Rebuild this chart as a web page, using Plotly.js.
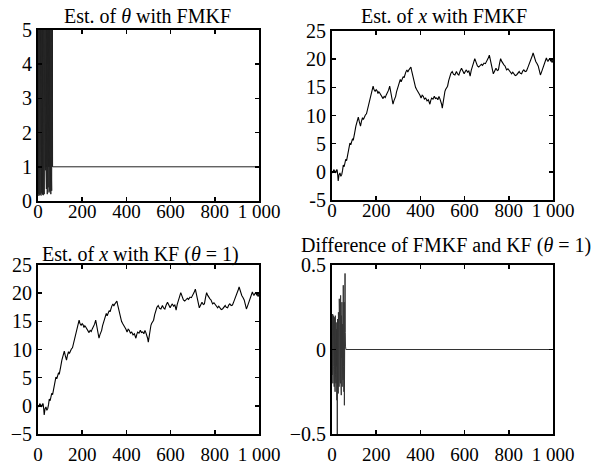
<!DOCTYPE html>
<html>
<head>
<meta charset="utf-8">
<script src="https://cdn.plot.ly/plotly-3.0.1.min.js"></script>
<style>html,body{margin:0;padding:0;background:#fff;}#chart{width:597px;height:464px;}</style>
</head>
<body>
<div id="chart"></div>
<script>
// ---- data ----
var xTickVals = [0, 200, 400, 600, 800, 1000];
var xTickText = ["0", "200", "400", "600", "800", "1 000"];

// Est. of theta with FMKF: oscillations over the first steps, then constant 1
var thetaVals = [1, 6.2, 0.2, 7.5, 0.15, 5.8, 0.3, 8.1, 0.18, 6.6, 0.25, 7.2, 0.2, 5.9, 0.16, 8.4, 0.3, 6.1, 0.22, 7.7,
  0.19, 6.4, 0.28, 5.6, 0.17, 7.9, 0.24, 6.8, 0.2, 5.7, 0.3, 7.1, 1.0, 6.3, 0.9, 8.0, 1.0, 5.9, 0.35, 6.7,
  1.0, 7.4, 0.2, 6.0, 1.0, 5.5, 0.4, 7.6, 1.0, 6.5, 0.25, 5.8, 1.0, 7.0, 0.3, 6.2, 1.0, 5.6, 0.2, 6.9,
  1.0, 5.7, 0.3, 6.1, 1.0, 5.5, 1.0];
var thetaTail = {step: 1000, value: 1};

// Est. of x (FMKF); the KF estimate is visually identical
var xSteps = [0,4,8,12,17,20,23,26,28,32,36,40,44,48,51,55,58,62,66,70,74,78,81,85,89,93,96,99,103,108,112,116,119,123,126,129,133,138,142,146,151,156,160,165,169,174,179,183,186,190,195,200,204,208,212,216,221,226,231,236,241,246,251,256,261,265,268,272,276,280,284,288,292,296,299,304,309,313,318,322,326,329,334,339,343,348,352,357,360,363,368,373,378,383,388,394,398,403,408,413,418,424,430,436,440,443,447,451,457,463,468,474,479,484,488,493,496,499,503,508,511,514,518,523,528,533,538,544,550,556,560,563,568,574,580,586,592,598,603,608,613,619,622,625,630,634,640,646,650,653,658,664,670,676,681,688,694,700,706,712,717,722,726,730,736,742,748,753,758,763,768,772,778,783,787,790,796,802,808,813,818,823,829,835,841,847,852,858,863,868,874,880,886,892,898,903,907,910,916,922,928,933,938,943,948,952,957,962,966,970,974,977,981,985,989,992,996,1000];
var fmkfX = [0.1,-0.2,0.4,0.0,-0.2,0.3,0.4,-0.6,-1.6,-0.5,-0.2,-0.8,-0.5,0.3,1.2,0.9,1.8,2.2,2.0,2.8,3.0,4.2,5.1,4.8,5.4,5.9,5.6,6.6,7.0,8.1,8.6,9.0,9.7,9.0,8.6,8.1,8.9,9.6,9.3,9.7,10.1,10.3,10.9,11.8,12.2,13.1,14.0,14.6,15.2,14.6,14.3,14.6,14.4,13.9,14.2,14.0,13.6,13.3,13.0,13.4,13.2,13.7,14.0,14.5,15.2,14.3,13.7,12.8,12.0,12.6,12.9,13.4,14.2,14.8,15.2,15.8,16.4,16.0,16.4,16.9,16.7,17.2,17.7,18.1,17.7,18.1,18.3,18.6,18.0,17.4,16.4,15.5,15.0,14.6,14.3,14.0,13.6,13.1,13.6,13.4,12.9,13.1,12.6,12.8,12.2,12.0,12.7,13.1,12.9,13.4,13.0,13.1,12.8,13.4,13.0,12.5,12.0,11.3,12.5,14.0,14.3,14.6,14.9,15.2,16.2,17.0,17.5,17.8,17.3,17.2,17.6,17.8,17.4,17.2,17.9,18.4,17.9,17.4,17.8,18.1,17.7,17.9,17.5,17.0,18.0,18.7,19.3,20.1,19.6,19.1,18.8,18.6,18.8,19.1,18.9,19.3,19.2,19.6,20.1,20.7,19.8,19.1,18.2,17.4,17.9,18.4,18.0,18.1,19.2,20.1,19.6,19.3,19.0,18.8,18.4,18.1,18.3,17.9,17.6,17.4,17.7,17.4,17.1,17.2,17.6,17.8,17.5,17.4,17.9,18.1,17.8,17.9,18.5,19.1,19.5,20.1,20.7,21.1,20.3,19.6,19.2,18.8,18.0,17.2,17.7,18.1,18.8,19.3,19.8,20.2,19.8,19.6,19.9,20.1,19.7,19.8,19.4,19.9];
var kfX = fmkfX.slice();

// Difference of FMKF and KF
var diffVals = [0, 0.18, -0.15, 0.21, -0.2, 0.12, -0.18, 0.2, -0.1, 0.15, -0.22, 0.19, -0.12, 0.08, -0.25, 0.2, -0.15, 0.1, -0.2, 0.16,
  -0.1, 0.12, -0.3, 0.05, -0.62, 0.18, -0.2, 0.1, -0.26, 0.22, -0.05, 0.12, -0.22, 0.3, -0.1, 0.15, -0.18, 0.25, -0.2, 0.32,
  -0.15, 0.1, -0.27, 0.2, -0.05, 0.28, -0.22, 0.15, -0.12, 0.3, -0.18, 0.38, -0.1, 0.22, -0.25, 0.28, -0.33, 0.2, 0.05, 0.45,
  0.1, 0.02, 0, 0];
var diffTail = {step: 1000, value: 0};

var yTicks1 = [0, 1, 2, 3, 4, 5];
var yTicks2 = [-5, 0, 5, 10, 15, 20, 25];
var yText2 = ["-5", "0", "5", "10", "15", "20", "25"];
var yText3 = ["\u22125", "0", "5", "10", "15", "20", "25"];
var yTicks4 = [-0.5, 0, 0.5];
var yText4 = ["\u22120.5", "0", "0.5"];

// ---- build ----
function idx(n) { var a = []; for (var i = 0; i < n; i++) a.push(i); return a; }
var thetaX = idx(thetaVals.length).concat([thetaTail.step]);
var thetaY = thetaVals.concat([thetaTail.value]);
var diffX = idx(diffVals.length).concat([diffTail.step]);
var diffY = diffVals.concat([diffTail.value]);

var W = 597, H = 464;
var FONT = "Liberation Serif, Times New Roman, serif";
var XF = {family: FONT, size: 19, color: "#000"};
var YF = {family: FONT, size: 20, color: "#000"};

var traces = [
  {x: thetaX, y: thetaY, xaxis: "x", yaxis: "y", type: "scatter", mode: "lines", line: {color: "#222", width: 1}, hoverinfo: "skip"},
  {x: xSteps, y: fmkfX, xaxis: "x2", yaxis: "y2", type: "scatter", mode: "lines", line: {color: "#000", width: 1.1}, hoverinfo: "skip"},
  {x: xSteps, y: kfX, xaxis: "x3", yaxis: "y3", type: "scatter", mode: "lines", line: {color: "#000", width: 1.1}, hoverinfo: "skip"},
  {x: diffX, y: diffY, xaxis: "x4", yaxis: "y4", type: "scatter", mode: "lines", line: {color: "#333", width: 1}, hoverinfo: "skip"}
];

function px(a, b) { return [a / W, b / W]; }
function py(top, bottom) { return [1 - bottom / H, 1 - top / H]; }

function xa(dom, anchor, standoff) {
  return {domain: dom, anchor: anchor, range: [0, 1000], tickmode: "array", tickvals: xTickVals, ticktext: xTickText,
    ticks: "inside", ticklen: 4, tickwidth: 1.5, tickcolor: "#000", showline: true, linecolor: "#000", linewidth: 2,
    mirror: "ticks", showgrid: false, zeroline: false, tickfont: XF, ticklabelstandoff: standoff, fixedrange: true};
}
function ya(dom, anchor, range, vals, text) {
  return {domain: dom, anchor: anchor, range: range, tickmode: "array", tickvals: vals, ticktext: text,
    ticks: "inside", ticklen: 4, tickwidth: 1.5, tickcolor: "#000", showline: true, linecolor: "#000", linewidth: 2,
    mirror: "ticks", showgrid: false, zeroline: false, tickfont: YF, ticklabelstandoff: 0, fixedrange: true};
}

var layout = {
  width: W, height: H, margin: {l: 0, r: 0, t: 0, b: 0}, showlegend: false,
  paper_bgcolor: "#fff", plot_bgcolor: "#fff", font: {family: FONT, color: "#000"},
  xaxis: xa(px(38, 259), "y", -8),
  yaxis: ya(py(30, 201), "x", [0, 5], yTicks1, yTicks1.map(String)),
  xaxis2: xa(px(332, 553), "y2", -8),
  yaxis2: ya(py(31, 200), "x2", [-5, 25], yTicks2, yText2),
  xaxis3: xa(px(38, 259), "y3", 2),
  yaxis3: ya(py(265, 434), "x3", [-5, 25], yTicks2, yText3),
  xaxis4: xa(px(332, 553), "y4", 2),
  yaxis4: ya(py(265, 434), "x4", [-0.5, 0.5], yTicks4, yText4),
  annotations: [
    {text: "Est. of <i>\u03b8</i> with FMKF", x: 147 / W, y: 1 - 16 / H},
    {text: "Est. of <i>x</i> with FMKF", x: 444 / W, y: 1 - 16 / H},
    {text: "Est. of <i>x</i> with KF (<i>\u03b8</i> = 1)", x: 140 / W, y: 1 - 255 / H},
    {text: "Difference of FMKF and KF (<i>\u03b8</i> = 1)", x: 446 / W, y: 1 - 245 / H}
  ].map(function (a) {
    a.xref = "paper"; a.yref = "paper"; a.xanchor = "center"; a.yanchor = "middle"; a.showarrow = false;
    a.font = {family: FONT, size: 20, color: "#000"}; return a;
  })
};

Plotly.newPlot("chart", traces, layout, {staticPlot: true, displayModeBar: false});
</script>
</body>
</html>
